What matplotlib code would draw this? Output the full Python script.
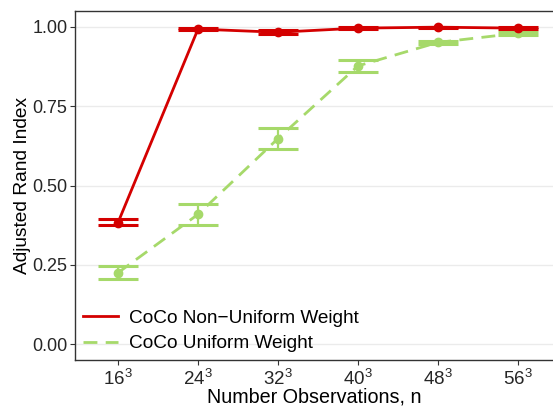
import matplotlib
matplotlib.use("Agg")
import matplotlib.pyplot as plt
import numpy as np

plt.rcParams['font.family'] = ['Liberation Sans', 'DejaVu Sans']
plt.rcParams['mathtext.fontset'] = 'custom'
plt.rcParams['mathtext.rm'] = 'Liberation Sans'
plt.rcParams['mathtext.it'] = 'Liberation Sans:italic'

categories = ["$16^3$", "$24^3$", "$32^3$", "$40^3$", "$48^3$", "$56^3$"]
nonuni_mean = [0.383, 0.993, 0.983, 0.996, 0.999, 0.996]
nonuni_lo = [0.374, 0.990, 0.977, 0.993, 0.997, 0.992]
nonuni_hi = [0.393, 0.996, 0.989, 0.999, 1.000, 0.999]
uni_mean = [0.225, 0.409, 0.648, 0.877, 0.951, 0.980]
uni_lo = [0.204, 0.375, 0.614, 0.858, 0.945, 0.975]
uni_hi = [0.245, 0.441, 0.680, 0.896, 0.956, 0.985]

red = "#D40000"
green = "#A6D96A"

fig = plt.figure(figsize=(5.53, 4.07), dpi=100)
ax = fig.add_axes([75/553, 47/407, 1 - 75/553, (360-11)/407])

x = np.arange(1, len(categories) + 1)

ax.plot(x, uni_mean, color=green, lw=2.0, dashes=(5, 3), zorder=4, label="CoCo Uniform Weight")
ax.plot(x, nonuni_mean, color=red, lw=2.0, zorder=4, label="CoCo Non\u2212Uniform Weight")
for mean, lo, hi, color in [(uni_mean, uni_lo, uni_hi, green), (nonuni_mean, nonuni_lo, nonuni_hi, red)]:
    mean = np.array(mean); lo = np.array(lo); hi = np.array(hi)
    ax.vlines(x, lo, hi, color=color, lw=1.6, zorder=3)
    ax.hlines(lo, x - 0.25, x + 0.25, color=color, lw=2.2, zorder=3)
    ax.hlines(hi, x - 0.25, x + 0.25, color=color, lw=2.2, zorder=3)
    ax.plot(x, mean, 'o', color=color, ms=6, zorder=5)

ax.set_xlim(1 - 43/80, 6 + 35/80)
ax.set_ylim(-0.05, 1.05)
ax.set_xticks(x)
ax.set_xticklabels(categories)
ax.set_yticks([0, 0.25, 0.5, 0.75, 1.0])
ax.set_yticklabels(["0.00", "0.25", "0.50", "0.75", "1.00"])
ax.yaxis.grid(True, color="#EBEBEB", lw=1.0)
ax.set_axisbelow(True)
ax.tick_params(axis='both', colors="#333333", labelcolor="#262626", labelsize=13, length=3.5, width=0.8)
ax.tick_params(axis='x', labelsize=13.5, pad=3)
ax.tick_params(axis='y', pad=2)
for s in ['left', 'bottom', 'top']:
    ax.spines[s].set_color("#333333")
    ax.spines[s].set_linewidth(1.0)
ax.spines['right'].set_visible(False)

ax.set_xlabel("Number Observations, n", fontsize=14.2, color="black", labelpad=-1)
ax.set_ylabel("Adjusted Rand Index", fontsize=13.8, color="black", labelpad=1)

handles, labels = ax.get_legend_handles_labels()
leg = ax.legend(handles[::-1], labels[::-1], loc='lower left', frameon=False, fontsize=13.7,
                handlelength=1.84, handletextpad=0.58, borderpad=0, borderaxespad=0,
                bbox_to_anchor=(8/478, 0.022), labelspacing=0.42)

fig.savefig("out.png", dpi=100)
